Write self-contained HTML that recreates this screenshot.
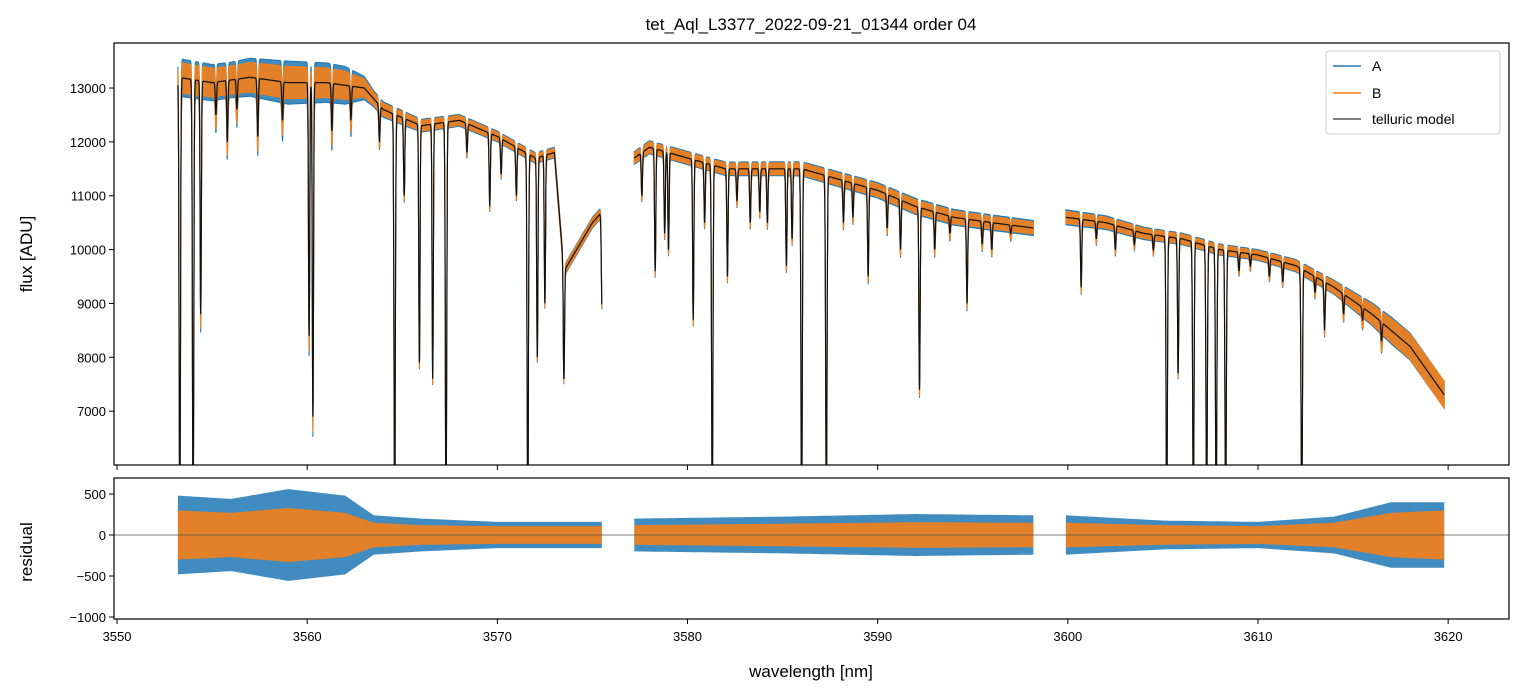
<!DOCTYPE html>
<html><head><meta charset="utf-8"><style>
body{margin:0;background:#fff;}
svg{display:block;font-family:"Liberation Sans","DejaVu Sans",sans-serif;}
</style></head><body>
<svg id="chart" width="1523" height="696" viewBox="0 0 1523 696" xmlns="http://www.w3.org/2000/svg">
<defs>
<clipPath id="clipTop"><rect x="114" y="43" width="1395" height="422"/></clipPath>
<clipPath id="clipBot"><rect x="114" y="478" width="1395" height="141"/></clipPath>
</defs>
<text x="811" y="30" text-anchor="middle" font-size="17">tet_Aql_L3377_2022-09-21_01344  order 04</text>
<g id="gtop" clip-path="url(#clipTop)"></g>
<g id="gbot" clip-path="url(#clipBot)"></g>
<g id="axes"></g>
<text x="811" y="677" text-anchor="middle" font-size="17">wavelength [nm]</text>
<text transform="translate(32,254) rotate(-90)" text-anchor="middle" font-size="17">flux [ADU]</text>
<text transform="translate(32,552) rotate(-90)" text-anchor="middle" font-size="17">residual</text>
<g>
<rect x="1326" y="51" width="174" height="83" fill="#fff" fill-opacity="0.85" stroke="#ccc" rx="3"/>
<line x1="1333" y1="66" x2="1361" y2="66" stroke="#1f77b4" stroke-width="1.5"/>
<text x="1372" y="71" font-size="14">A</text>
<line x1="1333" y1="93" x2="1361" y2="93" stroke="#ff7f0e" stroke-width="1.5"/>
<text x="1372" y="98" font-size="14">B</text>
<line x1="1333" y1="119" x2="1361" y2="119" stroke="#555" stroke-width="1.5"/>
<text x="1372" y="124" font-size="14">telluric model</text>
</g>
</svg>
<script>
const segStart = [3553.2, 3577.2, 3599.9];
const segEnd   = [3575.5, 3598.2, 3619.8];
const contWl = [3553.2,3555,3557,3559,3561,3563,3564,3566,3568,3570,3572,3573,3573.5,3574,3575,3575.5,
  3577.2,3578,3580,3582,3584,3586,3588,3590,3592,3594,3596,3598.2,
  3599.9,3602,3604,3606,3608,3610,3612,3614,3616,3618,3619.8];
const contFlux = [13200,13100,13200,13100,13100,13000,12600,12300,12400,12100,11700,11800,9600,9900,10500,10700,
  11700,11900,11700,11500,11500,11500,11300,11100,10800,10600,10500,10400,
  10600,10500,10300,10200,10000,9900,9700,9300,8800,8200,7300];
const lineWl = [3553.3,3554.0,3554.4,3555.2,3555.8,3556.3,3557.4,3558.7,3560.1,3560.3,3561.3,3562.3,3563.8,3564.6,3565.1,3565.9,3566.6,3567.3,3568.4,3569.6,3570.2,3571.0,3571.6,3572.1,3572.5,3573.5,3575.5,
  3577.6,3578.3,3578.8,3579.0,3580.3,3580.9,3581.3,3582.1,3582.6,3583.3,3583.8,3584.2,3585.2,3585.5,3586.0,3587.3,3588.2,3588.7,3589.5,3590.5,3591.2,3592.2,3593.0,3593.8,3594.7,3595.5,3596.0,3597.0,
  3600.7,3601.5,3602.5,3603.5,3604.5,3605.2,3605.8,3606.6,3607.3,3607.8,3608.3,3609.0,3609.6,3610.6,3611.3,3612.3,3613.0,3613.5,3614.5,3615.5,3616.5];
const lineMin = [5000,5000,8800,12500,12000,12600,12100,12400,8400,6900,12200,12400,12000,5000,11000,7900,7600,5000,11800,10800,11400,11000,5000,8000,9000,7600,8900,
  11000,9600,10300,10000,8700,10500,5000,9500,10900,10500,10700,10500,9700,10200,5000,5000,10500,10600,9500,10400,10000,7400,10000,10300,9000,10100,10000,10300,
  9300,10200,10000,10100,10000,5000,7700,5000,5000,5000,5000,9600,9700,9500,9400,5000,9200,8500,8800,8700,8300];
// flux-panel scatter amplitude knots
const noiseWl    = [3553.2,3556,3559,3562,3563.5,3566,3570,3575.5,3577.2,3585,3592,3598.2,3599.9,3605,3610,3614,3617,3619.8];
const fluxNoiseA = [350,330,400,350,150,120,100,100,120,130,150,140,140,110,100,130,250,250];
const fluxNoiseB = [280,260,300,260,120,100,80,80,100,110,120,110,110,90,80,110,220,250];
// residual-panel amplitude knots
const resNoiseA  = [600,550,700,600,300,250,200,200,250,280,320,300,300,220,200,280,500,500];
const resNoiseB  = [500,450,550,450,250,200,180,180,200,230,260,250,250,200,180,250,450,500];

const X0=3549.84, X1=3623.2, PX0=114, PX1=1509;
const xs = w => PX0 + (w-X0)/(X1-X0)*(PX1-PX0);
const ys = f => 43 + (13836-f)/(13836-6000)*422;
const yr = r => 535 - r*41/500;
function interp(wa, va, w){
  if(w<=wa[0]) return va[0];
  for(let i=1;i<wa.length;i++) if(w<=wa[i]){const t=(w-wa[i-1])/(wa[i]-wa[i-1]);return va[i-1]+t*(va[i]-va[i-1]);}
  return va[va.length-1];
}
function model(w){
  let c = interp(contWl, contFlux, w), f = c;
  for(let i=0;i<lineWl.length;i++){
    const d = Math.max(0, 1 - lineMin[i]/c);
    const wd = lineMin[i] < 6000 ? 0.05 : 0.045;
    f *= 1 - d*Math.exp(-Math.pow((w-lineWl[i])/wd,2));
  }
  return f;
}
const NS='http://www.w3.org/2000/svg';
function mk(tag, attrs, parent){const e=document.createElementNS(NS,tag);for(const k in attrs)e.setAttribute(k,attrs[k]);parent.appendChild(e);return e;}
const gTop=document.getElementById('gtop'), gBot=document.getElementById('gbot'), gAxes=document.getElementById('axes');

for(let s=0;s<segStart.length;s++){
  const up=[],lo=[],upB=[],loB=[],mdl=[],rA=[],rB=[];
  for(let w=segStart[s]; w<=segEnd[s]; w+=0.01){
    const m=model(w);
    const a=interp(noiseWl,fluxNoiseA,w), b=interp(noiseWl,fluxNoiseB,w);
    const ra=interp(noiseWl,resNoiseA,w), rb=interp(noiseWl,resNoiseB,w);
    const x=xs(w).toFixed(1);
    up.push(x+','+ys(m+a).toFixed(1)); lo.unshift(x+','+ys(m-a).toFixed(1));
    upB.push(x+','+ys(m+b).toFixed(1)); loB.unshift(x+','+ys(m-b).toFixed(1));
    mdl.push(x+','+ys(m).toFixed(1));
    rA.push(x+','+yr(ra*0.8).toFixed(1)); rB.push(x+','+yr(rb*0.6).toFixed(1));
  }
  const rAlo=rA.map(p=>{const [x,y]=p.split(',');return x+','+(1070-(+y)).toFixed(1);}).reverse();
  const rBlo=rB.map(p=>{const [x,y]=p.split(',');return x+','+(1070-(+y)).toFixed(1);}).reverse();
  const pa=mk('polygon',{points:up.concat(lo).join(' '),fill:'#1f77b4','fill-opacity':0.85,stroke:'#1f77b4','stroke-width':1},gTop);
  
  
  const pb=mk('polygon',{points:upB.concat(loB).join(' '),fill:'#ff7f0e','fill-opacity':0.85,stroke:'#ff7f0e','stroke-width':1},gTop);
  
  
  const pm=mk('polyline',{points:mdl.join(' '),fill:'none',stroke:'#111','stroke-width':1.2},gTop);
  
  
  const rpa=mk('polygon',{points:rA.concat(rAlo).join(' '),fill:'#1f77b4','fill-opacity':0.85},gBot);
  
  
  const rpb=mk('polygon',{points:rB.concat(rBlo).join(' '),fill:'#ff7f0e','fill-opacity':0.85},gBot);
  
  
}
mk('line',{x1:114,x2:1509,y1:535,y2:535,stroke:'#555','stroke-width':0.8},gBot);

const f1=mk('rect',{x:114,y:43,width:1395,height:422,fill:'none',stroke:'#000','stroke-width':1.2},gAxes);


const f2=mk('rect',{x:114,y:478,width:1395,height:141,fill:'none',stroke:'#000','stroke-width':1.2},gAxes);



const xTicks=[3550,3560,3570,3580,3590,3600,3610,3620];
const yTicks=[7000,8000,9000,10000,11000,12000,13000];
const rTicks=[500,0,-500,-1000];
xTicks.forEach(t=>{
  const x=xs(t);
  mk('line',{x1:x,x2:x,y1:465,y2:470,stroke:'#000'},gAxes);
  mk('line',{x1:x,x2:x,y1:619,y2:624,stroke:'#000'},gAxes);
  const tx=mk('text',{x:x,y:641,'text-anchor':'middle','font-size':13},gAxes);
  tx.textContent=t;
  
  
});
yTicks.forEach(t=>{
  const y=ys(t);
  mk('line',{x1:109,x2:114,y1:y,y2:y,stroke:'#000'},gAxes);
  const tx=mk('text',{x:106,y:y+5,'text-anchor':'end','font-size':13},gAxes);
  tx.textContent=t;
  
  
});
rTicks.forEach(t=>{
  const y=yr(t);
  mk('line',{x1:109,x2:114,y1:y,y2:y,stroke:'#000'},gAxes);
  const tx=mk('text',{x:106,y:y+5,'text-anchor':'end','font-size':13},gAxes);
  tx.textContent=String(t).replace('-','\u2212');
  
  
});
</script>
</body></html>
